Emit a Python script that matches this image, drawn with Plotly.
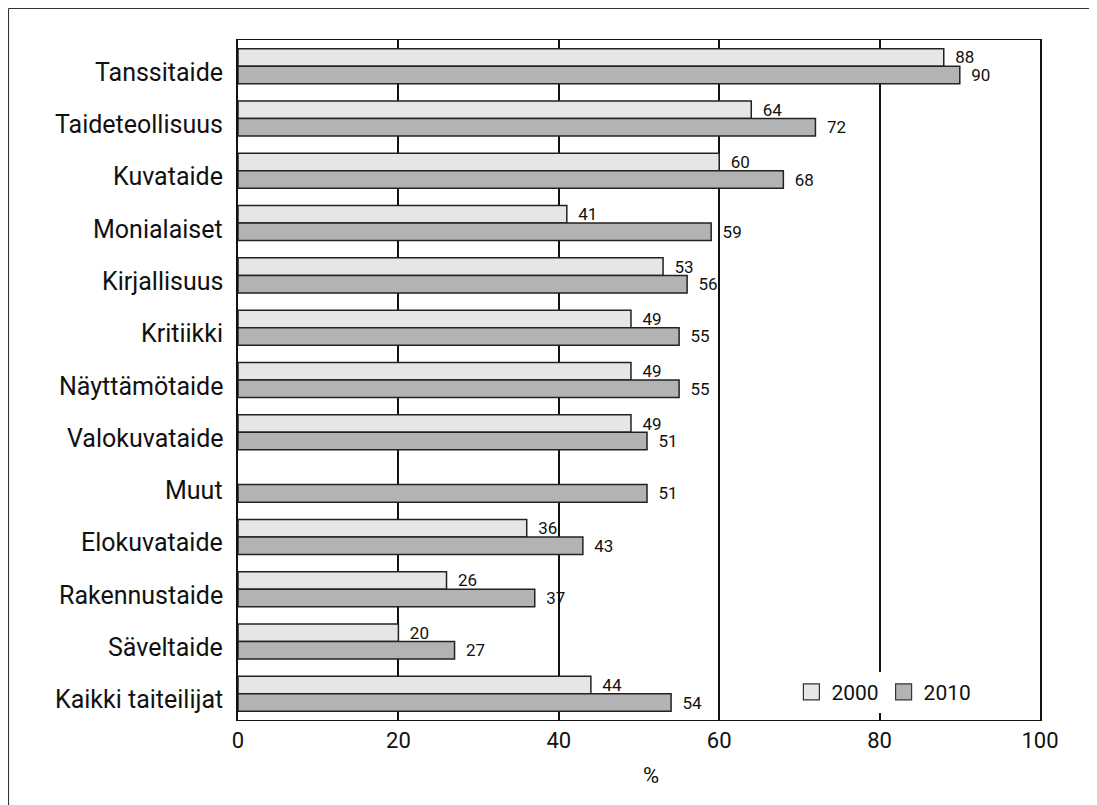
import plotly.graph_objects as go

categories = ["Tanssitaide", "Taideteollisuus", "Kuvataide", "Monialaiset", "Kirjallisuus",
              "Kritiikki", "Näyttämötaide", "Valokuvataide", "Muut", "Elokuvataide",
              "Rakennustaide", "Säveltaide", "Kaikki taiteilijat"]
values_2000 = [88, 64, 60, 41, 53, 49, 49, 49, None, 36, 26, 20, 44]
values_2010 = [90, 72, 68, 59, 56, 55, 55, 51, 51, 43, 37, 27, 54]
x_ticks = [0, 20, 40, 60, 80, 100]
series_names = ["2000", "2010"]
series_colors = ["#e6e6e6", "#b3b3b3"]

FONT = "Roboto, Arial, sans-serif"
NB = "\u00a0\u00a0"

fig = go.Figure()
for name, vals, col in zip(series_names, [values_2000, values_2010], series_colors):
    fig.add_trace(go.Bar(
        y=categories, x=vals, name=name, orientation="h", showlegend=False,
        marker=dict(color=col, line=dict(color="#222222", width=1.5)),
        text=[("" if v is None else NB + str(v)) for v in vals],
        textposition="outside", cliponaxis=False, constraintext="none",
        textfont=dict(size=17, color="#111111", family=FONT),
    ))
# legend entries with large square swatches
for name, col in zip(series_names, series_colors):
    fig.add_trace(go.Scatter(
        x=[None], y=[None], mode="markers", name=name, showlegend=True,
        marker=dict(symbol="square", size=18, color=col, line=dict(color="#333333", width=1.2)),
    ))

# category labels, nudged slightly below the bar-pair centre as in the reference
annotations = [dict(text=c, x=0, xref="paper", y=c, yref="y", xanchor="right",
                    yanchor="middle", xshift=-13, yshift=-6, showarrow=False,
                    font=dict(size=25, family=FONT, color="#111111"))
               for c in categories]
annotations.append(dict(text="%", x=0.515, xref="paper", y=-0.082, yref="paper",
                        xanchor="center", yanchor="middle", showarrow=False,
                        font=dict(size=22, family=FONT, color="#111111")))

frame_line = dict(color="#333333", width=1.2)
fig.update_layout(
    width=1089, height=797,
    margin=dict(l=230, r=57, t=32, b=85),
    paper_bgcolor="white", plot_bgcolor="white",
    barmode="group", bargap=0.33, bargroupgap=0.0,
    font=dict(family=FONT, color="#111111"),
    legend=dict(orientation="h", x=0.69, y=0.071, xanchor="left", yanchor="top",
                bgcolor="white", font=dict(size=21, family=FONT), traceorder="normal",
                itemsizing="trace", itemwidth=30),
    xaxis=dict(range=[0, 100], tickvals=x_ticks, ticks="", showgrid=True,
               gridcolor="#111111", gridwidth=1.5, showline=True, linecolor="#111111",
               linewidth=1.2, mirror=True, zeroline=False,
               tickfont=dict(size=22, family=FONT)),
    yaxis=dict(autorange="reversed", showline=True, linecolor="#111111", linewidth=1.5,
               mirror=True, ticks="", showgrid=False, showticklabels=False),
    annotations=annotations,
    shapes=[
        dict(type="line", xref="paper", yref="paper", x0=-0.2862, x1=1.08,
             y0=1.0463, y1=1.0463, line=frame_line, layer="below"),
        dict(type="line", xref="paper", yref="paper", x0=-0.2862, x1=-0.2862,
             y0=1.0463, y1=-0.13, line=frame_line, layer="below"),
    ],
)

fig.write_html("out.html")
